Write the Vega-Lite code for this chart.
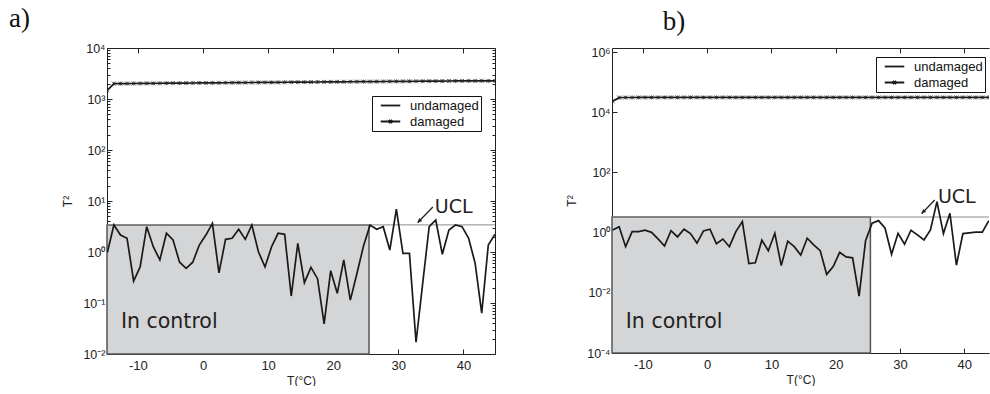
{
  "$schema": "https://vega.github.io/schema/vega-lite/v6.json",
  "padding": {"left": 8, "top": 5, "right": 0, "bottom": 0},
  "background": "white",
  "spacing": 69,
  "resolve": {"scale": {"color": "independent"}, "legend": {"color": "independent"}},
  "config": {
    "view": {"stroke": null},
    "font": "Liberation Sans",
    "axis": {
      "labelFont": "Liberation Sans", "labelFontSize": 12.5, "labelColor": "#222",
      "titleFont": "Liberation Sans", "titleFontSize": 12, "titleFontWeight": "normal", "titleColor": "#222",
      "domainColor": "#222", "domainWidth": 1, "tickColor": "#222", "tickWidth": 1, "grid": false,
      "tickSize": -5, "labelPadding": 7
    },
    "title": {"font": "Liberation Serif", "fontSize": 27, "fontWeight": "normal", "anchor": "start", "baseline": "alphabetic", "color": "#111", "frame": "bounds"}
  },
  "datasets": {
    "a": [
      {"T": -14.70, "u": 0.97, "d": 1480},
      {"T": -13.69, "u": 3.39, "d": 2000},
      {"T": -12.68, "u": 2.15, "d": 2005},
      {"T": -11.67, "u": 1.86, "d": 2010},
      {"T": -10.66, "u": 0.27, "d": 2015},
      {"T": -9.66, "u": 0.51, "d": 2020},
      {"T": -8.65, "u": 3.14, "d": 2025},
      {"T": -7.64, "u": 1.27, "d": 2030},
      {"T": -6.63, "u": 0.70, "d": 2035},
      {"T": -5.62, "u": 2.33, "d": 2040},
      {"T": -4.61, "u": 1.72, "d": 2045},
      {"T": -3.60, "u": 0.63, "d": 2050},
      {"T": -2.59, "u": 0.48, "d": 2055},
      {"T": -1.58, "u": 0.63, "d": 2060},
      {"T": -0.57, "u": 1.37, "d": 2065},
      {"T": 0.44, "u": 2.15, "d": 2070},
      {"T": 1.44, "u": 3.65, "d": 2075},
      {"T": 2.45, "u": 0.39, "d": 2080},
      {"T": 3.46, "u": 1.77, "d": 2085},
      {"T": 4.47, "u": 1.86, "d": 2090},
      {"T": 5.48, "u": 2.79, "d": 2095},
      {"T": 6.49, "u": 1.77, "d": 2100},
      {"T": 7.50, "u": 3.39, "d": 2105},
      {"T": 8.51, "u": 1.01, "d": 2110},
      {"T": 9.52, "u": 0.51, "d": 2115},
      {"T": 10.53, "u": 1.27, "d": 2120},
      {"T": 11.53, "u": 2.33, "d": 2125},
      {"T": 12.54, "u": 2.22, "d": 2130},
      {"T": 13.55, "u": 0.137, "d": 2135},
      {"T": 14.56, "u": 1.48, "d": 2140},
      {"T": 15.57, "u": 0.25, "d": 2145},
      {"T": 16.58, "u": 0.50, "d": 2150},
      {"T": 17.59, "u": 0.30, "d": 2155},
      {"T": 18.60, "u": 0.039, "d": 2160},
      {"T": 19.61, "u": 0.43, "d": 2165},
      {"T": 20.62, "u": 0.155, "d": 2170},
      {"T": 21.62, "u": 0.70, "d": 2175},
      {"T": 22.63, "u": 0.114, "d": 2180},
      {"T": 23.64, "u": 0.38, "d": 2185},
      {"T": 24.65, "u": 1.31, "d": 2190},
      {"T": 25.66, "u": 3.39, "d": 2195},
      {"T": 26.67, "u": 2.79, "d": 2200},
      {"T": 27.68, "u": 3.14, "d": 2205},
      {"T": 28.69, "u": 1.09, "d": 2210},
      {"T": 29.70, "u": 6.95, "d": 2215},
      {"T": 30.71, "u": 0.94, "d": 2220},
      {"T": 31.71, "u": 0.94, "d": 2225},
      {"T": 32.72, "u": 0.017, "d": 2230},
      {"T": 33.73, "u": 0.235, "d": 2235},
      {"T": 34.74, "u": 3.14, "d": 2240},
      {"T": 35.75, "u": 4.24, "d": 2245},
      {"T": 36.76, "u": 0.90, "d": 2250},
      {"T": 37.77, "u": 2.70, "d": 2255},
      {"T": 38.78, "u": 3.39, "d": 2260},
      {"T": 39.79, "u": 3.14, "d": 2260},
      {"T": 40.80, "u": 1.86, "d": 2265},
      {"T": 41.80, "u": 0.60, "d": 2265},
      {"T": 42.81, "u": 0.063, "d": 2270},
      {"T": 43.82, "u": 1.37, "d": 2270},
      {"T": 44.83, "u": 2.22, "d": 2275}
    ],
    "b": [
      {"T": -14.70, "u": 1.23, "d": 23000},
      {"T": -13.69, "u": 1.58, "d": 30500},
      {"T": -12.68, "u": 0.34, "d": 30800},
      {"T": -11.67, "u": 1.08, "d": 30800},
      {"T": -10.66, "u": 1.08, "d": 30900},
      {"T": -9.66, "u": 1.20, "d": 30900},
      {"T": -8.65, "u": 1.02, "d": 30900},
      {"T": -7.64, "u": 0.62, "d": 31000},
      {"T": -6.63, "u": 0.36, "d": 31000},
      {"T": -5.62, "u": 1.16, "d": 31000},
      {"T": -4.61, "u": 0.72, "d": 31000},
      {"T": -3.60, "u": 1.30, "d": 31000},
      {"T": -2.59, "u": 0.93, "d": 31000},
      {"T": -1.58, "u": 0.45, "d": 31000},
      {"T": -0.57, "u": 1.14, "d": 31000},
      {"T": 0.44, "u": 1.30, "d": 31000},
      {"T": 1.44, "u": 0.43, "d": 31000},
      {"T": 2.45, "u": 0.61, "d": 31000},
      {"T": 3.46, "u": 0.34, "d": 31000},
      {"T": 4.47, "u": 1.08, "d": 31000},
      {"T": 5.48, "u": 2.32, "d": 31000},
      {"T": 6.49, "u": 0.094, "d": 31000},
      {"T": 7.50, "u": 0.099, "d": 31000},
      {"T": 8.51, "u": 0.56, "d": 31000},
      {"T": 9.52, "u": 0.25, "d": 31000},
      {"T": 10.53, "u": 0.95, "d": 31000},
      {"T": 11.53, "u": 0.080, "d": 31000},
      {"T": 12.54, "u": 0.52, "d": 31000},
      {"T": 13.55, "u": 0.34, "d": 31000},
      {"T": 14.56, "u": 0.18, "d": 31000},
      {"T": 15.57, "u": 0.65, "d": 31000},
      {"T": 16.58, "u": 0.39, "d": 31000},
      {"T": 17.59, "u": 0.25, "d": 31000},
      {"T": 18.60, "u": 0.041, "d": 31000},
      {"T": 19.61, "u": 0.074, "d": 31000},
      {"T": 20.62, "u": 0.22, "d": 31000},
      {"T": 21.62, "u": 0.156, "d": 31000},
      {"T": 22.63, "u": 0.145, "d": 31000},
      {"T": 23.64, "u": 0.0078, "d": 31000},
      {"T": 24.65, "u": 0.54, "d": 31000},
      {"T": 25.66, "u": 2.05, "d": 31000},
      {"T": 26.67, "u": 2.50, "d": 31000},
      {"T": 27.68, "u": 1.40, "d": 31000},
      {"T": 28.69, "u": 0.19, "d": 31000},
      {"T": 29.70, "u": 0.95, "d": 31000},
      {"T": 30.71, "u": 0.41, "d": 31000},
      {"T": 31.71, "u": 1.20, "d": 31000},
      {"T": 32.72, "u": 0.84, "d": 31000},
      {"T": 33.73, "u": 0.57, "d": 31000},
      {"T": 34.74, "u": 1.23, "d": 31000},
      {"T": 35.75, "u": 10.7, "d": 31000},
      {"T": 36.76, "u": 0.93, "d": 31000},
      {"T": 37.77, "u": 4.4, "d": 31000},
      {"T": 38.78, "u": 0.083, "d": 31000},
      {"T": 39.79, "u": 0.93, "d": 31000},
      {"T": 40.80, "u": 0.98, "d": 31000},
      {"T": 41.80, "u": 1.03, "d": 31000},
      {"T": 42.81, "u": 1.04, "d": 31000},
      {"T": 43.82, "u": 2.48, "d": 31000}
    ]
  },
  "hconcat": [
    {
      "width": 388,
      "height": 306,
      "title": {"text": "a)", "dx": -53, "offset": 9},
      "layer": [
        {
          "data": {"values": [{"x0": -14.75, "x1": 25.5, "y0": 0.01, "y1": 3.4}]},
          "mark": {"type": "rect", "fill": "#d4d5d7", "stroke": "#555", "strokeWidth": 1.5},
          "encoding": {
            "x": {"field": "x0", "type": "quantitative", "title": "T(°C)",
                  "scale": {"domain": [-14.75, 44.85], "nice": false, "zero": false},
                  "axis": {"orient": "bottom", "values": [-10, 0, 10, 20, 30, 40], "labelExpr": "'' + datum.value", "labelFontSize": 13, "labelPadding": 10, "titlePadding": 3}},
            "x2": {"field": "x1"},
            "y": {"field": "y0", "type": "quantitative", "title": "T²",
                  "scale": {"type": "log", "domain": [0.01, 10000], "nice": false},
                  "axis": {"orient": "left",
                           "values": [0.01,0.02,0.03,0.04,0.05,0.06,0.07,0.08,0.09,0.1,0.2,0.3,0.4,0.5,0.6,0.7,0.8,0.9,1,2,3,4,5,6,7,8,9,10,20,30,40,50,60,70,80,90,100,200,300,400,500,600,700,800,900,1000,2000,3000,4000,5000,6000,7000,8000,9000,10000],
                           "labelExpr": "datum.value == 0.01 ? '10⁻²' : datum.value == 0.1 ? '10⁻¹' : datum.value == 1 ? '10⁰' : datum.value == 10 ? '10¹' : datum.value == 100 ? '10²' : datum.value == 1000 ? '10³' : datum.value == 10000 ? '10⁴' : ''",
                           "tickSize": {"condition": {"test": "indexof([0.01,0.1,1,10,100,1000,10000], datum.value) >= 0", "value": -5}, "value": -3},
                           "titlePadding": 8}},
            "y2": {"field": "y1"}
          }
        },
        {
          "data": {"values": [{"ucl": 3.4}]},
          "mark": {"type": "rule", "color": "#8a8a8a", "strokeWidth": 1},
          "encoding": {"y": {"field": "ucl", "type": "quantitative", "axis": null}}
        },
        {
          "data": {"name": "a"},
          "transform": [{"fold": ["u", "d"], "as": ["key", "value"]},
                        {"calculate": "datum.key == 'u' ? 'undamaged' : 'damaged'", "as": "series"}],
          "mark": {"type": "line", "strokeWidth": 1.7, "clip": true},
          "encoding": {
            "x": {"field": "T", "type": "quantitative", "axis": null},
            "y": {"field": "value", "type": "quantitative", "axis": null},
            "color": {"field": "series", "type": "nominal",
                      "scale": {"domain": ["undamaged", "damaged"], "range": ["#1a1a1a", "#1a1a1a"]},
                      "legend": {"orient": "none", "legendX": 265, "legendY": 48, "title": null,
                                 "symbolType": "stroke", "symbolSize": 169, "symbolStrokeWidth": 1.8,
                                 "symbolOffset": 9, "labelOffset": 12, "labelFont": "Liberation Sans", "labelFontSize": 13,
                                 "labelColor": "#111", "padding": 2, "rowPadding": 1,
                                 "strokeColor": "#111", "fillColor": "white",
                                 "encode": {"symbols": {"update": {
                                   "shape": {"signal": "datum.value === 'damaged' ? 'M-1.5,0H1.5M-0.25,-0.25L0.25,0.25M-0.25,0.25L0.25,-0.25' : 'M-1.5,0H1.5'"},
                                   "fill": {"value": "transparent"},
                                   "stroke": {"value": "#111"}}}}}}
          }
        },
        {
          "data": {"name": "a"},
          "mark": {"type": "point", "shape": "M-1,-1L1,1M-1,1L1,-1M0,-1L0,1", "size": 16, "filled": false, "stroke": "#222", "strokeWidth": 1, "clip": true},
          "encoding": {
            "x": {"field": "T", "type": "quantitative",
                  "axis": {"orient": "top", "values": [-10, 0, 10, 20, 30, 40], "labels": false, "title": null}},
            "y": {"field": "d", "type": "quantitative",
                  "axis": {"orient": "right",
                           "values": [0.01,0.02,0.03,0.04,0.05,0.06,0.07,0.08,0.09,0.1,0.2,0.3,0.4,0.5,0.6,0.7,0.8,0.9,1,2,3,4,5,6,7,8,9,10,20,30,40,50,60,70,80,90,100,200,300,400,500,600,700,800,900,1000,2000,3000,4000,5000,6000,7000,8000,9000,10000],
                           "labels": false, "title": null,
                           "tickSize": {"condition": {"test": "indexof([0.01,0.1,1,10,100,1000,10000], datum.value) >= 0", "value": -5}, "value": -3}}}
          }
        },
        {
          "data": {"values": [{"T": -12.6, "y": 0.032, "t": "In control"}]},
          "mark": {"type": "text", "align": "left", "baseline": "alphabetic", "font": "DejaVu Sans", "fontSize": 20.5, "color": "#222"},
          "encoding": {"x": {"field": "T", "type": "quantitative", "axis": null}, "y": {"field": "y", "type": "quantitative", "axis": null}, "text": {"field": "t"}}
        },
        {
          "data": {"values": [{"T": 35.6, "y": 5.8, "t": "UCL"}]},
          "mark": {"type": "text", "align": "left", "baseline": "alphabetic", "font": "DejaVu Sans", "fontSize": 19, "color": "#222"},
          "encoding": {"x": {"field": "T", "type": "quantitative", "axis": null}, "y": {"field": "y", "type": "quantitative", "axis": null}, "text": {"field": "t"}}
        },
        {
          "data": {"values": [{"x1": 35.3, "y1": 7.6, "x2": 33.0, "y2": 3.8}]},
          "mark": {"type": "rule", "color": "#222", "strokeWidth": 1.3},
          "encoding": {"x": {"field": "x1", "type": "quantitative", "axis": null}, "y": {"field": "y1", "type": "quantitative", "axis": null}, "x2": {"field": "x2"}, "y2": {"field": "y2"}}
        },
        {
          "data": {"values": [{"x": 32.9, "y": 3.7}]},
          "mark": {"type": "point", "shape": "M0,0L-0.8,2L0.8,2Z", "size": 25, "filled": true, "color": "#222", "angle": 225, "opacity": 1},
          "encoding": {"x": {"field": "x", "type": "quantitative", "axis": null}, "y": {"field": "y", "type": "quantitative", "axis": null}}
        }
      ],
      "resolve": {"axis": {"x": "independent", "y": "independent"}}
    },
    {
      "width": 377,
      "height": 305,
      "title": {"text": "b)", "dx": 97, "offset": 10},
      "layer": [
        {
          "data": {"values": [{"x0": -14.8, "x1": 25.4, "y0": 0.0001, "y1": 3.3}]},
          "mark": {"type": "rect", "fill": "#d4d5d7", "stroke": "#555", "strokeWidth": 1.5},
          "encoding": {
            "x": {"field": "x0", "type": "quantitative", "title": "T(°C)",
                  "scale": {"domain": [-14.8, 43.85], "nice": false, "zero": false},
                  "axis": {"orient": "bottom", "values": [-10, 0, 10, 20, 30, 40], "labelExpr": "'' + datum.value", "labelFontSize": 13, "labelPadding": 10, "titlePadding": 3}},
            "x2": {"field": "x1"},
            "y": {"field": "y0", "type": "quantitative", "title": "T²",
                  "scale": {"type": "log", "domain": [0.0001, 1360000], "nice": false},
                  "axis": {"orient": "left",
                           "values": [0.0001, 0.01, 1, 100, 10000, 1000000],
                           "labelExpr": "datum.value == 0.0001 ? '10⁻⁴' : datum.value == 0.01 ? '10⁻²' : datum.value == 1 ? '10⁰' : datum.value == 100 ? '10²' : datum.value == 10000 ? '10⁴' : datum.value == 1000000 ? '10⁶' : ''",
                           "titlePadding": 8}},
            "y2": {"field": "y1"}
          }
        },
        {
          "data": {"values": [{"ucl": 3.3}]},
          "mark": {"type": "rule", "color": "#8a8a8a", "strokeWidth": 1},
          "encoding": {"y": {"field": "ucl", "type": "quantitative", "axis": null}}
        },
        {
          "data": {"name": "b"},
          "transform": [{"fold": ["u", "d"], "as": ["key", "value"]},
                        {"calculate": "datum.key == 'u' ? 'undamaged' : 'damaged'", "as": "series"}],
          "mark": {"type": "line", "strokeWidth": 1.7, "clip": true},
          "encoding": {
            "x": {"field": "T", "type": "quantitative", "axis": null},
            "y": {"field": "value", "type": "quantitative", "axis": null},
            "color": {"field": "series", "type": "nominal",
                      "scale": {"domain": ["undamaged", "damaged"], "range": ["#1a1a1a", "#1a1a1a"]},
                      "legend": {"orient": "none", "legendX": 264, "legendY": 9, "title": null,
                                 "symbolType": "stroke", "symbolSize": 169, "symbolStrokeWidth": 1.8,
                                 "symbolOffset": 9, "labelOffset": 12, "labelFont": "Liberation Sans", "labelFontSize": 13,
                                 "labelColor": "#111", "padding": 2, "rowPadding": 1,
                                 "strokeColor": "#111", "fillColor": "white",
                                 "encode": {"symbols": {"update": {
                                   "shape": {"signal": "datum.value === 'damaged' ? 'M-1.5,0H1.5M-0.25,-0.25L0.25,0.25M-0.25,0.25L0.25,-0.25' : 'M-1.5,0H1.5'"},
                                   "fill": {"value": "transparent"},
                                   "stroke": {"value": "#111"}}}}}}
          }
        },
        {
          "data": {"name": "b"},
          "mark": {"type": "point", "shape": "M-1,-1L1,1M-1,1L1,-1M0,-1L0,1", "size": 16, "filled": false, "stroke": "#222", "strokeWidth": 1, "clip": true},
          "encoding": {
            "x": {"field": "T", "type": "quantitative",
                  "axis": {"orient": "top", "values": [-10, 0, 10, 20, 30, 40], "labels": false, "title": null}},
            "y": {"field": "d", "type": "quantitative", "axis": null}
          }
        },
        {
          "data": {"values": [{"T": -12.65, "y": 0.00069, "t": "In control"}]},
          "mark": {"type": "text", "align": "left", "baseline": "alphabetic", "font": "DejaVu Sans", "fontSize": 20.5, "color": "#222"},
          "encoding": {"x": {"field": "T", "type": "quantitative", "axis": null}, "y": {"field": "y", "type": "quantitative", "axis": null}, "text": {"field": "t"}}
        },
        {
          "data": {"values": [{"T": 35.9, "y": 9.7, "t": "UCL"}]},
          "mark": {"type": "text", "align": "left", "baseline": "alphabetic", "font": "DejaVu Sans", "fontSize": 19, "color": "#222"},
          "encoding": {"x": {"field": "T", "type": "quantitative", "axis": null}, "y": {"field": "y", "type": "quantitative", "axis": null}, "text": {"field": "t"}}
        },
        {
          "data": {"values": [{"x1": 35.4, "y1": 12.1, "x2": 33.4, "y2": 4.3}]},
          "mark": {"type": "rule", "color": "#222", "strokeWidth": 1.3},
          "encoding": {"x": {"field": "x1", "type": "quantitative", "axis": null}, "y": {"field": "y1", "type": "quantitative", "axis": null}, "x2": {"field": "x2"}, "y2": {"field": "y2"}}
        },
        {
          "data": {"values": [{"x": 33.3, "y": 4.2}]},
          "mark": {"type": "point", "shape": "M0,0L-0.8,2L0.8,2Z", "size": 25, "filled": true, "color": "#222", "angle": 225, "opacity": 1},
          "encoding": {"x": {"field": "x", "type": "quantitative", "axis": null}, "y": {"field": "y", "type": "quantitative", "axis": null}}
        }
      ],
      "resolve": {"axis": {"x": "independent", "y": "independent"}}
    }
  ]
}
